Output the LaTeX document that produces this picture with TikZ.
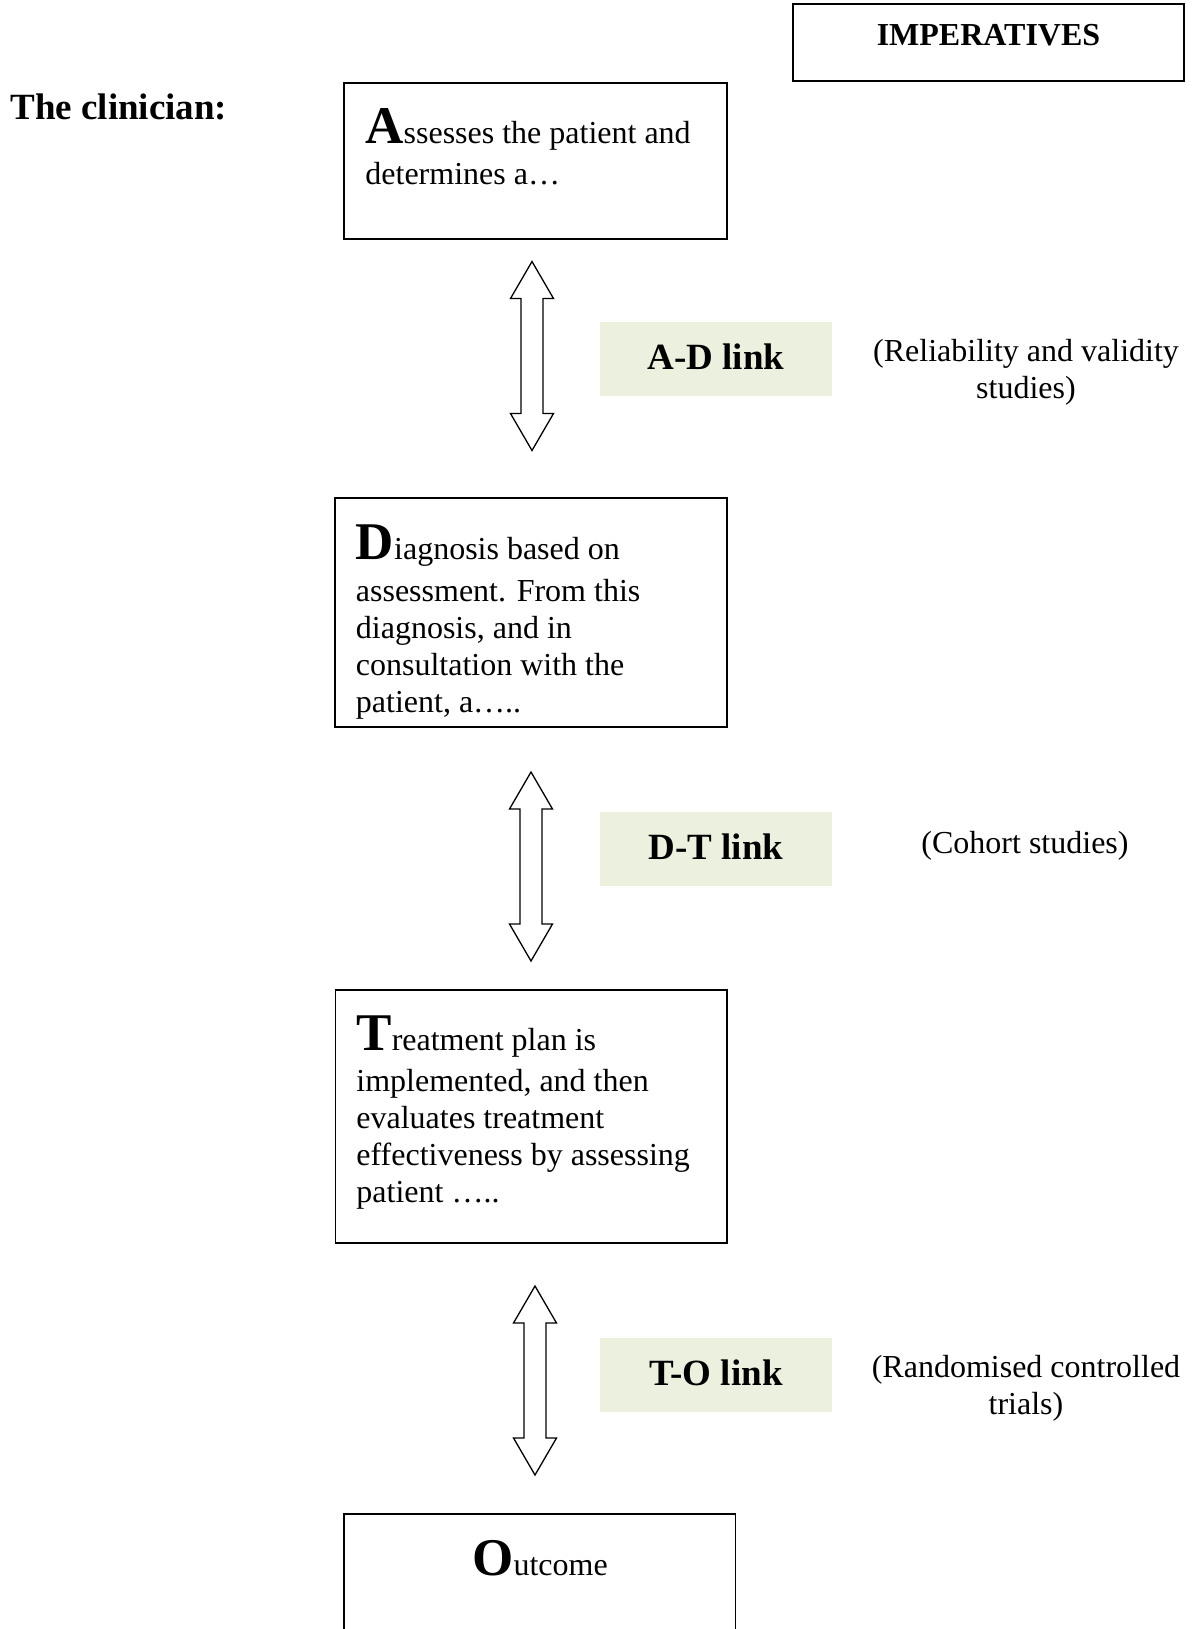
\documentclass[tikz,border=0pt]{standalone}
\usepackage{fontspec}
\setmainfont{Liberation Serif}
\usetikzlibrary{positioning}
\definecolor{linkfill}{HTML}{EBF1DE}
% large bold initial letter at the start of each stage text
\newcommand\bigini[1]{{\fontsize{26.5}{26.5}\selectfont\bfseries #1}}
% left-aligned block whose baseline is that of its first line
\newcommand\leftlines[1]{\begin{tabular}[t]{@{}l@{}}#1\end{tabular}}
\newcommand\midlines[1]{\begin{tabular}[t]{@{}c@{}}#1\end{tabular}}
\begin{document}
\begin{tikzpicture}[x=0.5pt,y=-0.5pt,
  stagebox/.style={draw=black,line width=0.75pt,fill=none,inner sep=0pt},
  linkbox/.style={fill=linkfill,draw=none,inner sep=0pt,text depth=2.8pt,
    font=\fontsize{18.5}{22}\selectfont\bfseries},
  bodytext/.style={inner sep=0pt,font=\fontsize{16}{18.5}\selectfont},
  studytext/.style={inner sep=0pt,font=\fontsize{16}{18.7}\selectfont},
  arrowline/.style={draw=black,line width=0.65pt,fill=white,line join=miter},
  updown/.pic={
    \path[arrowline] (0,-94.5) -- (21.5,-57.5) -- (11,-57.5) -- (11,57.5)
      -- (21.5,57.5) -- (0,94.5) -- (-21.5,57.5) -- (-11,57.5)
      -- (-11,-57.5) -- (-21.5,-57.5) -- cycle;
  }]
\clip (0,0) rectangle (1200,1629);
\fill[white] (0,0) rectangle (1200,1629);

% heading and column title
\node[inner sep=0pt,anchor=base west,font=\fontsize{18.5}{22}\selectfont\bfseries]
  (clinician) at (10,119) {The clinician:};
\node[stagebox,minimum width=195.5pt,minimum height=38.5pt] (impbox) at (988.5,42.5) {};
\node[bodytext,anchor=base,font=\fontsize{16}{18}\selectfont\bfseries]
  (imptext) at (988.5,45) {IMPERATIVES};

% stage boxes
\node[stagebox,minimum width=191.5pt,minimum height=78pt] (abox) at (535.5,161) {};
\node[bodytext,anchor=base west] (atext) at (365,143)
  {\leftlines{\bigini{A}ssesses the patient and\\[2.25pt] determines a…}};

\node[stagebox,minimum width=196pt,minimum height=114.5pt] (dbox) at (531,612.5) {};
\node[bodytext,anchor=base west] (dtext) at (355.5,559.5)
  {\leftlines{\bigini{D}iagnosis based on\\[2.25pt] assessment. From this\\ diagnosis, and in\\
   consultation with the\\ patient, a…..}};

\node[stagebox,minimum width=195.75pt,minimum height=126.5pt] (tbox) at (531.25,1116.5) {};
\node[bodytext,anchor=base west] (ttext) at (356,1050)
  {\leftlines{\bigini{T}reatment plan is\\[2.25pt] implemented, and then\\ evaluates treatment\\
   effectiveness by assessing\\ patient …..}};

\node[stagebox,minimum width=195.75pt,minimum height=70pt] (obox) at (539.75,1584) {};
\node[bodytext,anchor=base] (otext) at (540,1575) {\bigini{O}utcome};

% two-way links between stages
\pic (adarrow) at (532,356) {updown};
\pic (dtarrow) at (531,866.5) {updown};
\pic (toarrow) at (535,1380.5) {updown};

% link labels
\node[linkbox,minimum width=116pt,minimum height=37pt] (adlink) at (716,359) {A-D link};
\node[linkbox,minimum width=116pt,minimum height=37pt] (dtlink) at (716,849) {D-T link};
\node[linkbox,minimum width=116pt,minimum height=37pt] (tolink) at (716,1375) {T-O link};

% study types
\node[studytext,anchor=base] (adstudy) at (1026,361.5)
  {\midlines{(Reliability and validity\\ studies)}};
\node[studytext,anchor=base] (dtstudy) at (1025,853.3) {(Cohort studies)};
\node[studytext,anchor=base] (tostudy) at (1026,1377)
  {\midlines{(Randomised controlled\\ trials)}};
\end{tikzpicture}
\end{document}
